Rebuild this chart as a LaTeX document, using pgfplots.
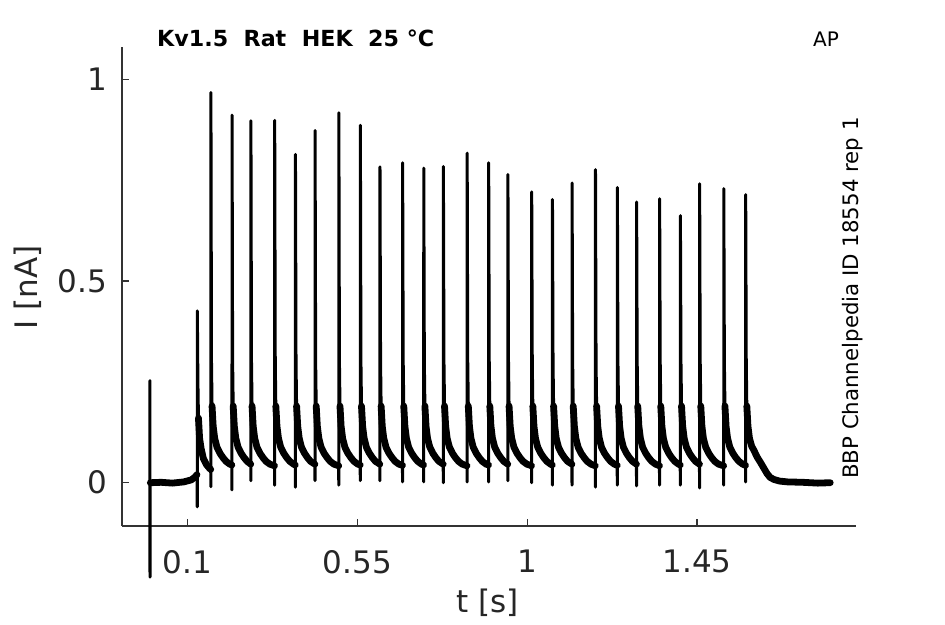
\documentclass[border=0pt]{standalone}
\usepackage{pgfplots}
\pgfplotsset{compat=1.18}
\usepackage{pgfplotstable}
\usepackage{fontspec}
\setmainfont{DejaVu Sans}
\pgfplotstableread{
t i n
0.0000 0.000 nan
0.0003 0.253 nan
0.0006 -0.234 nan
0.0010 0.000 nan
0.0015 0.000 0.000
0.0300 0.001 0.001
0.0600 -0.001 -0.001
0.0900 0.002 0.002
0.1100 0.007 0.007
0.1200 0.014 0.014
0.1250 0.020 0.020
0.1258 -0.060 nan
0.1260 0.426 nan
0.1275 0.250 nan
0.1290 0.160 0.160
0.1320 0.110 0.110
0.1360 0.085 0.085
0.1420 0.060 0.060
0.1500 0.045 0.045
0.1580 0.036 0.036
0.1615 0.033 0.033
0.1618 -0.010 nan
0.1620 0.967 nan
0.1635 0.300 nan
0.1650 0.190 0.190
0.1680 0.140 0.140
0.1720 0.110 0.110
0.1780 0.088 0.088
0.1860 0.073 0.073
0.1940 0.062 0.062
0.2020 0.053 0.053
0.2120 0.046 0.046
0.2175 0.044 0.044
0.2178 -0.018 nan
0.2180 0.911 nan
0.2195 0.300 nan
0.2210 0.190 0.190
0.2240 0.140 0.140
0.2280 0.110 0.110
0.2340 0.088 0.088
0.2420 0.073 0.073
0.2500 0.062 0.062
0.2580 0.053 0.053
0.2675 0.046 0.046
0.2678 0.005 nan
0.2680 0.897 nan
0.2695 0.300 nan
0.2710 0.190 0.190
0.2740 0.140 0.140
0.2780 0.110 0.110
0.2840 0.088 0.088
0.2920 0.073 0.073
0.3000 0.062 0.062
0.3080 0.053 0.053
0.3180 0.046 0.046
0.3305 0.042 0.042
0.3308 -0.006 nan
0.3310 0.898 nan
0.3325 0.300 nan
0.3340 0.190 0.190
0.3370 0.140 0.140
0.3410 0.110 0.110
0.3470 0.088 0.088
0.3550 0.073 0.073
0.3630 0.062 0.062
0.3710 0.053 0.053
0.3810 0.046 0.046
0.3855 0.044 0.044
0.3858 -0.011 nan
0.3860 0.814 nan
0.3875 0.300 nan
0.3890 0.190 0.190
0.3920 0.140 0.140
0.3960 0.110 0.110
0.4020 0.088 0.088
0.4100 0.073 0.073
0.4180 0.062 0.062
0.4260 0.053 0.053
0.4375 0.046 0.046
0.4378 0.005 nan
0.4380 0.873 nan
0.4395 0.300 nan
0.4410 0.190 0.190
0.4440 0.140 0.140
0.4480 0.110 0.110
0.4540 0.088 0.088
0.4620 0.073 0.073
0.4700 0.062 0.062
0.4780 0.053 0.053
0.4880 0.046 0.046
0.5005 0.042 0.042
0.5008 -0.006 nan
0.5010 0.917 nan
0.5025 0.300 nan
0.5040 0.190 0.190
0.5070 0.140 0.140
0.5110 0.110 0.110
0.5170 0.088 0.088
0.5250 0.073 0.073
0.5330 0.062 0.062
0.5410 0.053 0.053
0.5510 0.046 0.046
0.5575 0.044 0.044
0.5578 0.005 nan
0.5580 0.886 nan
0.5595 0.300 nan
0.5610 0.190 0.190
0.5640 0.140 0.140
0.5680 0.110 0.110
0.5740 0.088 0.088
0.5820 0.073 0.073
0.5900 0.062 0.062
0.5980 0.053 0.053
0.6095 0.046 0.046
0.6098 0.005 nan
0.6100 0.783 nan
0.6115 0.300 nan
0.6130 0.190 0.190
0.6160 0.140 0.140
0.6200 0.110 0.110
0.6260 0.088 0.088
0.6340 0.073 0.073
0.6420 0.062 0.062
0.6500 0.053 0.053
0.6600 0.046 0.046
0.6695 0.043 0.043
0.6698 0.002 nan
0.6700 0.793 nan
0.6715 0.300 nan
0.6730 0.190 0.190
0.6760 0.140 0.140
0.6800 0.110 0.110
0.6860 0.088 0.088
0.6940 0.073 0.073
0.7020 0.062 0.062
0.7100 0.053 0.053
0.7200 0.046 0.046
0.7255 0.044 0.044
0.7258 0.002 nan
0.7260 0.780 nan
0.7275 0.300 nan
0.7290 0.190 0.190
0.7320 0.140 0.140
0.7360 0.110 0.110
0.7420 0.088 0.088
0.7500 0.073 0.073
0.7580 0.062 0.062
0.7660 0.053 0.053
0.7775 0.046 0.046
0.7778 0.000 nan
0.7780 0.784 nan
0.7795 0.300 nan
0.7810 0.190 0.190
0.7840 0.140 0.140
0.7880 0.110 0.110
0.7940 0.088 0.088
0.8020 0.073 0.073
0.8100 0.062 0.062
0.8180 0.053 0.053
0.8280 0.046 0.046
0.8405 0.042 0.042
0.8408 0.002 nan
0.8410 0.817 nan
0.8425 0.300 nan
0.8440 0.190 0.190
0.8470 0.140 0.140
0.8510 0.110 0.110
0.8570 0.088 0.088
0.8650 0.073 0.073
0.8730 0.062 0.062
0.8810 0.053 0.053
0.8910 0.046 0.046
0.8975 0.044 0.044
0.8978 0.002 nan
0.8980 0.793 nan
0.8995 0.300 nan
0.9010 0.190 0.190
0.9040 0.140 0.140
0.9080 0.110 0.110
0.9140 0.088 0.088
0.9220 0.073 0.073
0.9300 0.062 0.062
0.9380 0.053 0.053
0.9485 0.046 0.046
0.9488 0.005 nan
0.9490 0.764 nan
0.9505 0.300 nan
0.9520 0.190 0.190
0.9550 0.140 0.140
0.9590 0.110 0.110
0.9650 0.088 0.088
0.9730 0.073 0.073
0.9810 0.062 0.062
0.9890 0.053 0.053
0.9990 0.046 0.046
1.0115 0.042 0.042
1.0118 0.000 nan
1.0120 0.721 nan
1.0135 0.300 nan
1.0150 0.190 0.190
1.0180 0.140 0.140
1.0220 0.110 0.110
1.0280 0.088 0.088
1.0360 0.073 0.073
1.0440 0.062 0.062
1.0520 0.053 0.053
1.0620 0.046 0.046
1.0665 0.044 0.044
1.0668 -0.006 nan
1.0670 0.702 nan
1.0685 0.300 nan
1.0700 0.190 0.190
1.0730 0.140 0.140
1.0770 0.110 0.110
1.0830 0.088 0.088
1.0910 0.073 0.073
1.0990 0.062 0.062
1.1070 0.053 0.053
1.1185 0.046 0.046
1.1188 -0.006 nan
1.1190 0.743 nan
1.1205 0.300 nan
1.1220 0.190 0.190
1.1250 0.140 0.140
1.1290 0.110 0.110
1.1350 0.088 0.088
1.1430 0.073 0.073
1.1510 0.062 0.062
1.1590 0.053 0.053
1.1690 0.046 0.046
1.1805 0.042 0.042
1.1808 -0.011 nan
1.1810 0.776 nan
1.1825 0.300 nan
1.1840 0.190 0.190
1.1870 0.140 0.140
1.1910 0.110 0.110
1.1970 0.088 0.088
1.2050 0.073 0.073
1.2130 0.062 0.062
1.2210 0.053 0.053
1.2310 0.046 0.046
1.2385 0.043 0.043
1.2388 -0.006 nan
1.2390 0.732 nan
1.2405 0.300 nan
1.2420 0.190 0.190
1.2450 0.140 0.140
1.2490 0.110 0.110
1.2550 0.088 0.088
1.2630 0.073 0.073
1.2710 0.062 0.062
1.2790 0.053 0.053
1.2895 0.046 0.046
1.2898 -0.008 nan
1.2900 0.696 nan
1.2915 0.300 nan
1.2930 0.190 0.190
1.2960 0.140 0.140
1.3000 0.110 0.110
1.3060 0.088 0.088
1.3140 0.073 0.073
1.3220 0.062 0.062
1.3300 0.053 0.053
1.3400 0.046 0.046
1.3505 0.042 0.042
1.3508 -0.006 nan
1.3510 0.704 nan
1.3525 0.300 nan
1.3540 0.190 0.190
1.3570 0.140 0.140
1.3610 0.110 0.110
1.3670 0.088 0.088
1.3750 0.073 0.073
1.3830 0.062 0.062
1.3910 0.053 0.053
1.4010 0.046 0.046
1.4055 0.044 0.044
1.4058 -0.006 nan
1.4060 0.662 nan
1.4075 0.300 nan
1.4090 0.190 0.190
1.4120 0.140 0.140
1.4160 0.110 0.110
1.4220 0.088 0.088
1.4300 0.073 0.073
1.4380 0.062 0.062
1.4460 0.053 0.053
1.4565 0.046 0.046
1.4568 -0.013 nan
1.4570 0.741 nan
1.4585 0.300 nan
1.4600 0.190 0.190
1.4630 0.140 0.140
1.4670 0.110 0.110
1.4730 0.088 0.088
1.4810 0.073 0.073
1.4890 0.062 0.062
1.4970 0.053 0.053
1.5070 0.046 0.046
1.5205 0.042 0.042
1.5208 -0.006 nan
1.5210 0.729 nan
1.5225 0.300 nan
1.5240 0.190 0.190
1.5270 0.140 0.140
1.5310 0.110 0.110
1.5370 0.088 0.088
1.5450 0.073 0.073
1.5530 0.062 0.062
1.5610 0.053 0.053
1.5710 0.046 0.046
1.5785 0.043 0.043
1.5788 0.002 nan
1.5790 0.714 nan
1.5805 0.300 nan
1.5820 0.190 0.190
1.5850 0.140 0.140
1.5890 0.110 0.110
1.5950 0.090 0.090
1.6010 0.080 0.080
1.6090 0.064 0.064
1.6190 0.049 0.049
1.6290 0.033 0.033
1.6360 0.022 0.022
1.6440 0.013 0.013
1.6540 0.008 0.008
1.6690 0.004 0.004
1.6900 0.002 0.002
1.7300 0.001 0.001
1.7700 -0.001 -0.001
1.8030 0.000 0.000
}\trace
\begin{document}
\begin{tikzpicture}
\useasboundingbox (-122pt,-98pt) rectangle (823pt,526pt);
\begin{axis}[
  at={(0pt,0pt)}, anchor=south west,
  width=734pt, height=479pt, scale only axis,
  xmin=-0.0736, xmax=1.8713, ymin=-0.1073, ymax=1.080,
  axis x line*=bottom, axis y line*=left,
  axis line style={-, draw=black!80, line width=1.1pt},
  xtick={0.1,0.55,1,1.45}, xticklabels={0.1,0.55,1,1.45},
  ytick={0,0.5,1}, yticklabels={0,0.5,1},
  tick align=inside, major tick length=7pt,
  tick style={draw=black!80, line width=1.1pt},
  ticklabel style={font=\fontsize{31}{37}\selectfont, text=black!85, inner sep=0pt},
  xticklabel style={anchor=north, yshift=-24pt},
  yticklabel style={anchor=east, xshift=-15pt},
  clip=false,
  unbounded coords=jump,
]
\addplot[black, line width=3pt, line join=round] table[x=t, y=i] {\trace};
\addplot[black, line width=6.8pt, line join=round, line cap=round] table[x=t, y=n] {\trace};
\end{axis}
\node[anchor=base, rotate=90, inner sep=0pt, text=black!85, font=\fontsize{31}{37}\selectfont] at (-84.7pt,238.5pt) {I [nA]};
\node[anchor=base, inner sep=0pt, text=black!85, font=\fontsize{31}{37}\selectfont] at (365.5pt,-86pt) {t [s]};
\node[anchor=base west, inner sep=0pt, font=\fontsize{22.2}{26}\selectfont\bfseries] at (35pt,479.3pt) {Kv1.5\ \ Rat\ \ HEK\ \ 25 °C};
\node[anchor=base, inner sep=0pt, font=\fontsize{20}{24}\selectfont] at (704pt,479.3pt) {AP};
\node[anchor=base west, rotate=90, inner sep=0pt, font=\fontsize{21.3}{25}\selectfont] at (736.3pt,47pt) {BBP Channelpedia ID 18554 rep 1};
\end{tikzpicture}
\end{document}
